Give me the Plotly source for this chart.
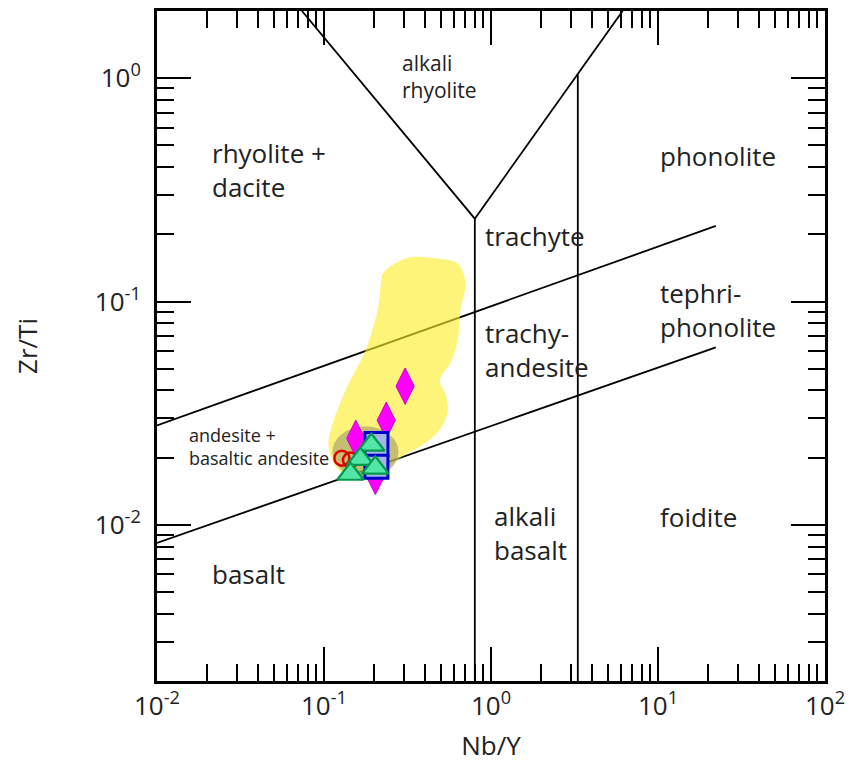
import math
import numpy as np
import plotly.graph_objects as go

# ---- field boundaries (Nb/Y, Zr/Ti) ----
upper_line_x = [0.01, 22.2]
upper_line_y = [0.0279, 0.218]
lower_line_x = [0.01, 22.2]
lower_line_y = [0.0083, 0.0624]
v_branch_x = [0.0738, 0.80, 6.14]
v_branch_y = [2.0, 0.235, 2.0]
trachyte_bound_x = [0.80, 0.80]
trachyte_bound_y = [0.235, 0.002]
phonolite_bound_x = [3.31, 3.31]
phonolite_bound_y = [1.04, 0.002]

# ---- reference field (yellow) outline ----
field_x = [0.2265, 0.319, 0.481, 0.632, 0.705, 0.659, 0.632, 0.574, 0.494, 0.537,
           0.551, 0.501, 0.403, 0.290, 0.233, 0.1675, 0.1225, 0.1066, 0.111, 0.1345,
           0.177, 0.211, 0.220]
field_y = [0.1345, 0.157, 0.1556, 0.148, 0.120, 0.094, 0.067, 0.0535, 0.0444, 0.038,
           0.0326, 0.0271, 0.0232, 0.0201, 0.0176, 0.0164, 0.0176, 0.0223, 0.0274, 0.0401,
           0.0604, 0.094, 0.124]

# ---- grey cluster ellipse (centre and half-widths in log10 units) ----
ell_cx, ell_cy = 0.177, 0.0212
ell_rx, ell_ry = 0.198, 0.115

# ---- samples ----
diamond_x = [0.306, 0.236, 0.155, 0.203]
diamond_y = [0.0418, 0.0294, 0.0244, 0.0165]
square_x = [0.206, 0.206]
square_y = [0.0230, 0.0182]
circle_x = [0.128, 0.144]
circle_y = [0.0199, 0.0195]
triangle_x = [0.192, 0.165, 0.203, 0.144]
triangle_y = [0.0228, 0.0197, 0.0180, 0.0169]

# ---- field labels ----
label_text = ["alkali<br>rhyolite", "rhyolite +<br>dacite", "phonolite", "trachyte",
              "tephri-<br>phonolite", "trachy-<br>andesite",
              "andesite +<br>basaltic andesite", "alkali<br>basalt", "foidite", "basalt"]
label_x = [0.286, 0.0207, 10.03, 0.891, 10.0, 0.891, 0.0151, 1.007, 10.0, 0.0207]
label_y = [1.02, 0.390, 0.450, 0.196, 0.092, 0.0604, 0.0225, 0.0092, 0.0109, 0.0060]
label_size = [21, 26, 26, 26, 26, 26, 18, 26, 26, 26]

tick_vals_x = [0.01, 0.1, 1, 10, 100]
tick_text_x = ["10<sup>-2</sup>", "10<sup>-1</sup>", "10<sup>0</sup>", "10<sup>1</sup>", "10<sup>2</sup>"]
tick_vals_y = [0.01, 0.1, 1]
tick_text_y = ["10<sup>-2</sup>", "10<sup>-1</sup>", "10<sup>0</sup>"]

FONT = "Open Sans"
INK = "#222222"

fig = go.Figure()

line_style = dict(color="black", width=1.8)
for xs, ys in [(upper_line_x, upper_line_y), (lower_line_x, lower_line_y),
               (v_branch_x, v_branch_y), (trachyte_bound_x, trachyte_bound_y),
               (phonolite_bound_x, phonolite_bound_y)]:
    fig.add_trace(go.Scatter(x=xs, y=ys, mode="lines", line=line_style, hoverinfo="skip"))

fig.add_trace(go.Scatter(
    x=field_x + field_x[:1], y=field_y + field_y[:1], mode="lines",
    line=dict(width=0, shape="spline", smoothing=1.0), fill="toself",
    fillcolor="rgba(255,238,40,0.62)", hoverinfo="skip"))

t = np.linspace(0, 2 * np.pi, 90)
ell_x = 10 ** (math.log10(ell_cx) + ell_rx * np.cos(t))
ell_y = 10 ** (math.log10(ell_cy) + ell_ry * np.sin(t))
fig.add_trace(go.Scatter(x=ell_x, y=ell_y, mode="lines", line=dict(width=0),
                         fill="toself", fillcolor="rgba(110,110,100,0.40)", hoverinfo="skip"))

fig.add_trace(go.Scatter(x=diamond_x, y=diamond_y, mode="markers",
                         marker=dict(symbol="diamond-tall", size=26, color="#ff00ff",
                                     line=dict(color="#c800c8", width=1))))
fig.add_trace(go.Scatter(x=square_x, y=square_y, mode="markers",
                         marker=dict(symbol="square", size=23, color="#a9b4e6",
                                     line=dict(color="#0000cc", width=3))))
fig.add_trace(go.Scatter(x=circle_x, y=circle_y, mode="markers",
                         marker=dict(symbol="circle-open", size=15, color="#e00000",
                                     line=dict(color="#e00000", width=2.5))))
fig.add_trace(go.Scatter(x=triangle_x, y=triangle_y, mode="markers",
                         marker=dict(symbol="triangle-up", size=23, color="#52e6a6",
                                     line=dict(color="#00994d", width=2.2))))

for txt, lx, ly, fs in zip(label_text, label_x, label_y, label_size):
    fig.add_annotation(x=math.log10(lx), y=math.log10(ly), text=txt, showarrow=False,
                       xanchor="left", yanchor="middle", align="left",
                       font=dict(family=FONT, size=fs, color=INK))

minor_x = [m * 10.0 ** e for e in range(-2, 2) for m in range(2, 10)]
minor_y = [m * 10.0 ** e for e in range(-3, 1) for m in range(2, 10)]

axis_common = dict(
    showline=True, linewidth=3, linecolor="black", mirror="allticks",
    ticks="inside", ticklen=34, tickwidth=2, tickcolor="black",
    showgrid=False, zeroline=False,
    tickfont=dict(family=FONT, size=26, color=INK),
)

fig.update_xaxes(
    type="log", range=[-2, 2], tickmode="array", tickvals=tick_vals_x, ticktext=tick_text_x,
    minor=dict(tickmode="array", tickvals=minor_x, ticks="inside", ticklen=17,
               tickwidth=2, tickcolor="black", showgrid=False),
    title=dict(text="Nb/Y", font=dict(family=FONT, size=26, color=INK), standoff=15),
    **axis_common)
fig.update_yaxes(
    type="log", range=[math.log10(0.002), math.log10(2)], tickmode="array",
    tickvals=tick_vals_y, ticktext=tick_text_y, ticklabelstandoff=8,
    minor=dict(tickmode="array", tickvals=minor_y, ticks="inside", ticklen=17,
               tickwidth=2, tickcolor="black", showgrid=False),
    title=dict(text="Zr/Ti", font=dict(family=FONT, size=26, color=INK), standoff=50),
    **axis_common)

fig.update_layout(
    width=853, height=769, margin=dict(l=157, r=23, t=8, b=88),
    plot_bgcolor="white", paper_bgcolor="white", showlegend=False,
)

fig.write_html("out.html")
